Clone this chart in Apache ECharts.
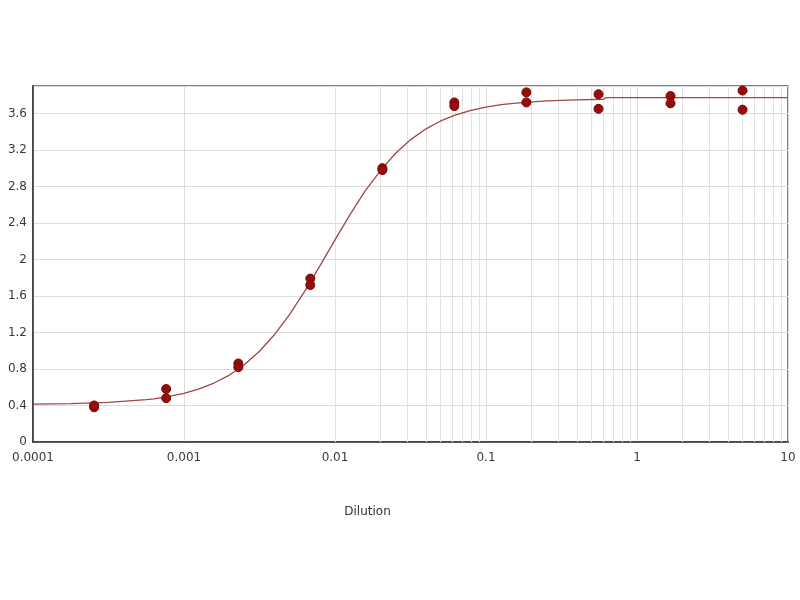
<!doctype html>
<html>
<head>
    <title>Dilution curve</title>
    <script src="https://cdnjs.cloudflare.com/ajax/libs/echarts/6.0.0/echarts.min.js"></script>
</head>
<style>
    html, body {
        margin: 0;
        background: #fff;
    }
    #chart {
        width: 800px;
        height: 600px;
    }
</style>
<body>
<div id="chart"></div>
<script>
  // measured points (two replicates per dilution)
  var dilutions = [0.000254, 0.000762, 0.00229, 0.00686, 0.0206, 0.0617, 0.185, 0.556, 1.667, 5.0];
  var rep1 = [0.38, 0.58, 0.86, 1.79, 3.00, 3.72, 3.83, 3.81, 3.79, 3.85];
  var rep2 = [0.40, 0.48, 0.82, 1.72, 2.98, 3.68, 3.72, 3.65, 3.71, 3.64];

  // fitted curve
  var fitX = [0.0001, 0.000178, 0.000316, 0.000562, 0.000631, 0.000794, 0.001, 0.00126, 0.00158,
    0.002, 0.00251, 0.00316, 0.00398, 0.00501, 0.00631, 0.00794, 0.01, 0.0126, 0.0158, 0.02,
    0.0251, 0.0316, 0.0398, 0.0501, 0.0631, 0.0794, 0.1, 0.126, 0.158, 0.251, 0.398, 0.6, 0.62, 1, 10];
  var fitY = [0.414, 0.420, 0.433, 0.464, 0.473, 0.499, 0.533, 0.581, 0.646,
    0.733, 0.847, 0.994, 1.178, 1.399, 1.652, 1.929, 2.214, 2.493, 2.749, 2.973,
    3.160, 3.310, 3.428, 3.517, 3.584, 3.633, 3.669, 3.695, 3.713, 3.736, 3.748, 3.755, 3.772, 3.772, 3.772];

  var yTicks = [0, 0.4, 0.8, 1.2, 1.6, 2, 2.4, 2.8, 3.2, 3.6];

  var points = [];
  dilutions.forEach(function (d, i) {
    points.push([d, rep1[i]]);
    points.push([d, rep2[i]]);
  });

  var curve = fitX.map(function (x, i) { return [x, fitY[i]]; });

  // minor log grid lines (2..9 of each decade)
  var minorLines = [];
  for (var k = -4; k < 1; k++) {
    for (var m = 2; m <= 9; m++) {
      minorLines.push({ xAxis: Number((m * Math.pow(10, k)).toPrecision(3)) });
    }
  }

  var font = 'DejaVu Sans';
  var myChart = echarts.init(document.getElementById('chart'));
  var option = {
    animation: false,
    backgroundColor: '#fff',
    grid: {
      left: 33,
      right: 12,
      top: 86,
      bottom: 158,
      show: true,
      borderColor: '#555',
      borderWidth: 1.5
    },
    xAxis: {
      type: 'log',
      logBase: 10,
      min: 0.0001,
      max: 10,
      name: 'Dilution',
      nameLocation: 'middle',
      nameGap: 58,
      nameTextStyle: { fontFamily: font, fontSize: 12, color: '#333', padding: [0, 86, 0, 0] },
      axisLine: { lineStyle: { color: '#333', width: 1.5 } },
      axisTick: { show: false },
      axisLabel: {
        fontFamily: font,
        fontSize: 12,
        color: '#3a3a3a',
        margin: 4,
        formatter: function (v) { return String(Number(v.toPrecision(6))); }
      },
      splitLine: { show: true, lineStyle: { color: '#dcdcdc', width: 1 } }
    },
    yAxis: {
      type: 'value',
      min: 0,
      max: 3.9,
      interval: 0.4,
      axisLine: { show: true, lineStyle: { color: '#333', width: 1.5 } },
      axisTick: { show: false },
      axisLabel: {
        fontFamily: font,
        fontSize: 12,
        color: '#3a3a3a',
        margin: 6,
        showMaxLabel: false,
        formatter: function (v) {
          var r = Number(v.toFixed(1));
          return yTicks.indexOf(r) >= 0 ? String(r) : '';
        }
      },
      splitLine: { show: true, lineStyle: { color: '#dcdcdc', width: 1 } }
    },
    series: [
      {
        type: 'line',
        data: curve,
        showSymbol: false,
        smooth: false,
        z: 2,
        lineStyle: { color: '#a04646', width: 1.3 },
        markLine: {
          silent: true,
          symbol: 'none',
          label: { show: false },
          lineStyle: { color: '#e2e2e2', width: 1, type: 'solid' },
          data: minorLines,
          z: 1
        }
      },
      {
        type: 'scatter',
        data: points,
        symbolSize: 9,
        z: 3,
        itemStyle: { color: '#980c0c', borderColor: '#6e0808', borderWidth: 1, opacity: 1 }
      }
    ]
  };

  myChart.setOption(option);
</script>
</body>
</html>
